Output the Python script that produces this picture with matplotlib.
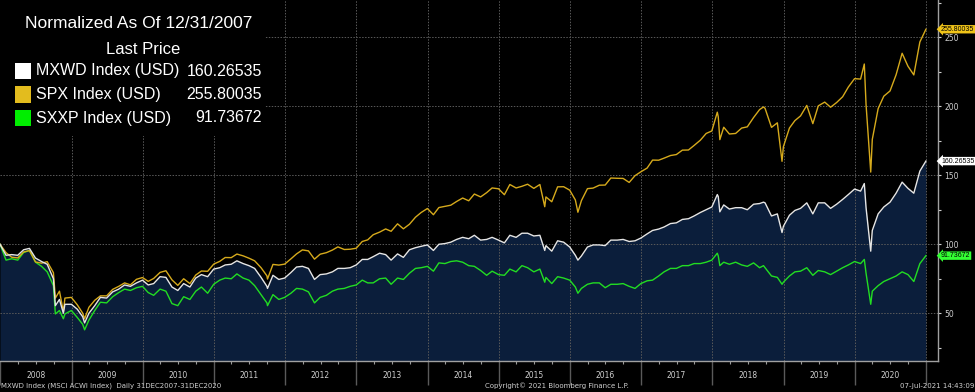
import matplotlib
matplotlib.use("Agg")
import matplotlib.pyplot as plt
import matplotlib.transforms as mtransforms
from matplotlib.patches import Rectangle
import pandas as pd

# month-end closes (plus a few intra-month extremes), normalized to 100 on 12/31/2007
dates = [
    "2007-12-31",
    "2008-01-31", "2008-02-29", "2008-03-31", "2008-04-30", "2008-05-30", "2008-06-30", "2008-07-31",
    "2008-08-29", "2008-09-30", "2008-10-10", "2008-10-31", "2008-11-20", "2008-11-28", "2008-12-31",
    "2009-01-30", "2009-02-27", "2009-03-09", "2009-03-31", "2009-04-30", "2009-05-29", "2009-06-30",
    "2009-07-31", "2009-08-31", "2009-09-30", "2009-10-30", "2009-11-30", "2009-12-31",
    "2010-01-29", "2010-02-26", "2010-03-31", "2010-04-30", "2010-05-31", "2010-06-30", "2010-07-30",
    "2010-08-31", "2010-09-30", "2010-10-29", "2010-11-30", "2010-12-31",
    "2011-01-31", "2011-02-28", "2011-03-31", "2011-04-29", "2011-05-31", "2011-06-30", "2011-07-29",
    "2011-08-31", "2011-09-30", "2011-10-03", "2011-10-31", "2011-11-30", "2011-12-30",
    "2012-01-31", "2012-02-29", "2012-03-30", "2012-04-30", "2012-05-31", "2012-06-29", "2012-07-31",
    "2012-08-31", "2012-09-28", "2012-10-31", "2012-11-30", "2012-12-31",
    "2013-01-31", "2013-02-28", "2013-03-28", "2013-04-30", "2013-05-31", "2013-06-28", "2013-07-31",
    "2013-08-30", "2013-09-30", "2013-10-31", "2013-11-29", "2013-12-31",
    "2014-01-31", "2014-02-28", "2014-03-31", "2014-04-30", "2014-05-30", "2014-06-30", "2014-07-31",
    "2014-08-29", "2014-09-30", "2014-10-31", "2014-11-28", "2014-12-31",
    "2015-01-30", "2015-02-27", "2015-03-31", "2015-04-30", "2015-05-29", "2015-06-30", "2015-07-31",
    "2015-08-25", "2015-08-31", "2015-09-30", "2015-10-30", "2015-11-30", "2015-12-31",
    "2016-01-29", "2016-02-11", "2016-02-29", "2016-03-31", "2016-04-29", "2016-05-31", "2016-06-30",
    "2016-07-29", "2016-08-31", "2016-09-30", "2016-10-31", "2016-11-30", "2016-12-30",
    "2017-01-31", "2017-02-28", "2017-03-31", "2017-04-28", "2017-05-31", "2017-06-30", "2017-07-31",
    "2017-08-31", "2017-09-29", "2017-10-31", "2017-11-30", "2017-12-29",
    "2018-01-26", "2018-01-31", "2018-02-08", "2018-02-28", "2018-03-29", "2018-04-30", "2018-05-31",
    "2018-06-29", "2018-07-31", "2018-08-31", "2018-09-20", "2018-09-28", "2018-10-31", "2018-11-30",
    "2018-12-24", "2018-12-31",
    "2019-01-31", "2019-02-28", "2019-03-29", "2019-04-30", "2019-05-31", "2019-06-28", "2019-07-31",
    "2019-08-30", "2019-09-30", "2019-10-31", "2019-11-29", "2019-12-31",
    "2020-01-31", "2020-02-19", "2020-02-28", "2020-03-23", "2020-03-31", "2020-04-30", "2020-05-29",
    "2020-06-30", "2020-07-31", "2020-08-31", "2020-09-30", "2020-10-30", "2020-11-30", "2020-12-31",
]

spx = [
    100.0,
    93.9, 90.6, 90.1, 94.4, 95.4, 87.2, 86.3, 87.4, 79.4, 61.0, 66.0, 51.2, 61.0, 61.5,
    56.2, 50.1, 46.0, 54.3, 59.4, 62.6, 62.6, 67.3, 69.5, 72.0, 70.6, 74.6, 75.9,
    73.1, 75.2, 79.6, 80.8, 74.2, 70.2, 75.0, 71.5, 77.7, 80.6, 80.4, 85.6,
    87.6, 90.4, 90.3, 92.9, 91.6, 89.9, 88.0, 83.0, 77.1, 74.8, 85.4, 84.9, 85.6,
    89.4, 93.0, 95.9, 95.2, 89.2, 92.8, 93.9, 95.8, 98.1, 96.2, 96.4, 97.1,
    102.0, 103.2, 106.9, 108.8, 111.1, 109.4, 114.8, 111.2, 114.5, 119.6, 123.0, 125.9,
    121.4, 126.6, 127.5, 128.3, 131.0, 133.5, 131.5, 136.4, 134.3, 137.4, 140.8, 140.2,
    135.9, 143.3, 140.8, 142.0, 143.5, 140.5, 143.3, 127.2, 134.3, 130.8, 141.6, 141.7, 139.2,
    132.1, 123.2, 131.6, 140.3, 140.7, 142.8, 142.9, 148.0, 147.8, 147.7, 144.8, 149.7, 152.5,
    155.2, 161.0, 160.9, 162.4, 164.3, 165.0, 168.2, 168.3, 171.6, 175.4, 180.3, 182.1,
    195.7, 192.3, 175.8, 184.8, 179.9, 180.3, 184.2, 185.1, 191.8, 197.6, 199.5, 198.5, 184.7, 188.0,
    160.1, 170.7,
    184.2, 189.6, 193.0, 200.6, 187.4, 200.3, 203.0, 199.3, 202.7, 206.9, 213.9, 220.0,
    219.7, 230.6, 201.2, 152.3, 176.0, 198.3, 207.3, 211.1, 222.8, 238.4, 229.0, 222.7, 246.6, 255.80035,
]

mxwd = [
    100.0,
    92.0, 92.5, 92.0, 96.0, 97.0, 90.0, 87.5, 85.5, 75.0, 55.5, 60.0, 50.0, 56.5, 56.5,
    53.0, 47.5, 43.0, 50.0, 55.5, 61.5, 61.0, 65.5, 67.5, 70.5, 69.5, 72.0, 74.0,
    70.5, 71.5, 76.5, 76.0, 69.0, 66.5, 71.5, 69.0, 75.5, 78.0, 76.5, 82.0,
    83.0, 85.0, 85.5, 88.0, 86.0, 84.5, 82.5, 76.0, 69.5, 68.0, 77.5, 74.5, 75.5,
    79.5, 83.5, 84.0, 82.5, 74.5, 78.0, 78.5, 80.0, 82.5, 82.5, 83.0, 85.0,
    89.0, 89.0, 91.0, 93.5, 92.5, 88.5, 93.0, 90.5, 96.0, 97.5, 98.5, 99.5,
    95.5, 100.0, 100.5, 101.5, 103.5, 105.0, 104.0, 106.5, 103.0, 103.5, 105.0, 103.0,
    101.0, 106.5, 105.0, 108.0, 108.0, 106.0, 106.5, 95.5, 99.0, 95.0, 102.5, 101.5, 98.0,
    92.0, 88.5, 91.5, 98.0, 99.5, 99.5, 99.0, 103.0, 103.0, 103.5, 102.0, 102.5, 104.5,
    107.5, 110.0, 111.0, 112.5, 115.0, 115.5, 118.0, 118.5, 120.5, 123.0, 125.0, 127.0,
    136.0, 134.5, 123.5, 128.5, 125.5, 126.5, 126.5, 125.0, 129.0, 129.5, 130.5, 130.0, 120.5, 122.0,
    108.5, 113.0,
    121.0, 124.5, 126.0, 130.0, 122.0, 130.0, 130.0, 126.0, 129.0, 132.5, 136.0, 140.0,
    138.5, 144.0, 126.5, 95.0, 110.0, 122.0, 127.0, 130.5, 137.0, 145.0, 140.5, 137.0, 153.0, 160.26535,
]

sxxp = [
    100.0,
    88.5, 89.5, 88.5, 94.0, 95.5, 87.0, 84.0, 80.0, 70.0, 49.5, 52.0, 46.0, 49.5, 52.0,
    47.0, 42.0, 38.0, 45.0, 52.0, 58.0, 57.5, 62.0, 65.0, 67.5, 66.5, 68.5, 69.5,
    65.0, 63.0, 67.5, 66.0, 57.0, 55.5, 62.0, 60.0, 66.0, 69.0, 64.5, 71.0,
    74.0, 75.5, 75.0, 78.5, 75.5, 74.0, 70.0, 63.5, 57.5, 55.5, 63.5, 60.0, 61.5,
    64.5, 68.0, 67.5, 65.5, 57.5, 61.5, 63.0, 66.0, 67.5, 68.0, 69.5, 70.5,
    74.0, 72.0, 72.0, 75.0, 75.5, 71.0, 75.5, 74.5, 79.0, 82.5, 83.0, 84.0,
    80.5, 86.5, 86.0, 87.5, 88.0, 87.0, 84.5, 84.0, 81.0, 77.5, 80.5, 78.0,
    77.5, 82.0, 80.0, 84.5, 83.0, 80.0, 82.0, 72.5, 76.0, 71.5, 76.5, 75.5, 74.0,
    69.0, 64.5, 68.0, 71.0, 72.0, 72.0, 68.5, 71.0, 71.0, 71.5, 69.5, 68.0, 71.5,
    73.5, 74.0, 77.0, 80.0, 82.5, 82.5, 84.5, 84.5, 86.0, 86.0, 87.0, 88.5,
    93.5, 91.5, 84.5, 87.0, 85.5, 87.0, 85.0, 84.0, 86.5, 83.0, 84.5, 83.0, 77.0, 76.0,
    71.0, 72.5,
    77.0, 80.0, 80.5, 83.0, 77.5, 81.0, 80.0, 78.0, 80.5, 83.0, 85.0, 87.5,
    86.0, 89.0, 79.0, 56.5, 66.0, 70.0, 73.0, 75.0, 77.0, 80.0, 78.0, 73.0, 86.0, 91.73672,
]

names = ["MXWD Index (USD)", "SPX Index (USD)", "SXXP Index (USD)"]
last_labels = ["160.26535", "255.80035", "91.73672"]
years = list(range(2008, 2021))
y_ticks = [50, 100, 150, 200, 250]

W, H = 975, 392
NAVY = "#0b1e3b"
WHITE = "#e6e6e6"
GOLD = "#d6aa1c"
GREEN = "#22dd22"

d = pd.to_datetime(dates)
Y0, Y1 = 15.4, 277.0

fig = plt.figure(figsize=(W / 100, H / 100), dpi=100, facecolor="black")
ax = fig.add_axes([0, 1 - 361 / H, 938 / W, 361 / H])
ax.set_facecolor("black")

ax.fill_between(d, mxwd, Y0, color=NAVY, lw=0, zorder=1)
ax.plot(d, sxxp, color=GREEN, lw=1.0, zorder=3)
ax.plot(d, mxwd, color=WHITE, lw=1.0, zorder=4)
ax.plot(d, spx, color=GOLD, lw=1.0, zorder=3)

ax.set_xlim(pd.Timestamp("2007-12-31"), pd.Timestamp("2021-03-03"))
ax.set_ylim(Y0, Y1)

# dotted grid
for y in range(2009, 2022):
    ax.axvline(pd.Timestamp(f"{y}-01-01"), color="#5a5a5a", lw=0.7, ls=(0, (1.5, 1.5)), zorder=2)
for v in y_ticks:
    ax.axhline(v, color="#5a5a5a", lw=0.7, ls=(0, (1.5, 1.5)), zorder=2)

# right axis
ax.yaxis.tick_right()
ax.set_yticks(y_ticks)
ax.set_yticks(range(25, 276, 25), minor=True)
ax.tick_params(axis="y", which="both", colors="#cfcfcf", labelsize=5.5, length=2.5,
               direction="out", pad=2, width=0.8)

# bottom axis: year separators + quarterly ticks
ax.set_xticks([pd.Timestamp(f"{y}-01-01") for y in range(2008, 2022)])
ax.set_xticks(pd.date_range("2008-01-01", "2021-01-01", freq="QS"), minor=True)
ax.set_xticklabels([])
ax.tick_params(axis="x", which="major", length=17, color="#5a5a5a", width=1.0, direction="out")
ax.tick_params(axis="x", which="minor", length=2, color="#9a9a9a", width=0.8, direction="out")
trans = mtransforms.blended_transform_factory(ax.transData, ax.transAxes)
for y in years:
    ax.text(pd.Timestamp(f"{y}-07-01"), -14 / 361, str(y), transform=trans, ha="center",
            va="center", color="#cfcfcf", fontsize=5.5)

for s in ["top", "left"]:
    ax.spines[s].set_visible(False)
for s in ["bottom", "right"]:
    ax.spines[s].set_color("#a0a0a0")
    ax.spines[s].set_linewidth(1.0)

# last-value tags on the right
tag_colors = ["#ffffff", "#f0c419", "#33ff33"]
for vals, lab, c in zip([mxwd, spx, sxxp], last_labels, tag_colors):
    ax.annotate(lab, xy=(1.0, vals[-1]), xycoords=("axes fraction", "data"),
                xytext=(2.2, 0), textcoords="offset points", ha="left", va="center",
                fontsize=5.0, family="Liberation Sans", color="black", annotation_clip=False,
                bbox=dict(boxstyle="larrow,pad=0.1", fc=c, ec="none"))

# legend block
def fx(px):
    return px / W

def fy(py):
    return 1 - py / H

fig.patches.append(Rectangle((0, fy(136)), fx(265), 136 / H, transform=fig.transFigure,
                             fc="black", ec="none", zorder=5))
lfont = dict(family="Liberation Sans", color="white", va="center", zorder=6)
fig.text(fx(139), fy(24), "Normalized As Of 12/31/2007", ha="center", fontsize=12.5, **lfont)
fig.text(fx(180), fy(49), "Last Price", ha="right", fontsize=12, **lfont)
sq_colors = ["#ffffff", "#e3bc1e", "#00ee00"]
for i, (nm, lab, c) in enumerate(zip(names, last_labels, sq_colors)):
    yc = 71 + i * 23.5
    fig.patches.append(Rectangle((fx(15), fy(yc + 8)), fx(16), 16 / H, transform=fig.transFigure,
                                 fc=c, ec="none", zorder=6))
    fig.text(fx(36), fy(yc), nm, ha="left", fontsize=11.5, **lfont)
    fig.text(fx(262), fy(yc), lab, ha="right", fontsize=11.5, **lfont)

# footer
ffont = dict(fontsize=5, color="#cfcfcf", va="center")
fig.text(fx(1), fy(386), "MXWD Index (MSCI ACWI Index)  Daily 31DEC2007-31DEC2020", ha="left", **ffont)
fig.text(fx(485), fy(386), "Copyright\u00a9 2021 Bloomberg Finance L.P.", ha="left", **ffont)
fig.text(fx(974), fy(386), "07-Jul-2021 14:43:09", ha="right", **ffont)

fig.savefig("out.png", dpi=100, facecolor="black")
